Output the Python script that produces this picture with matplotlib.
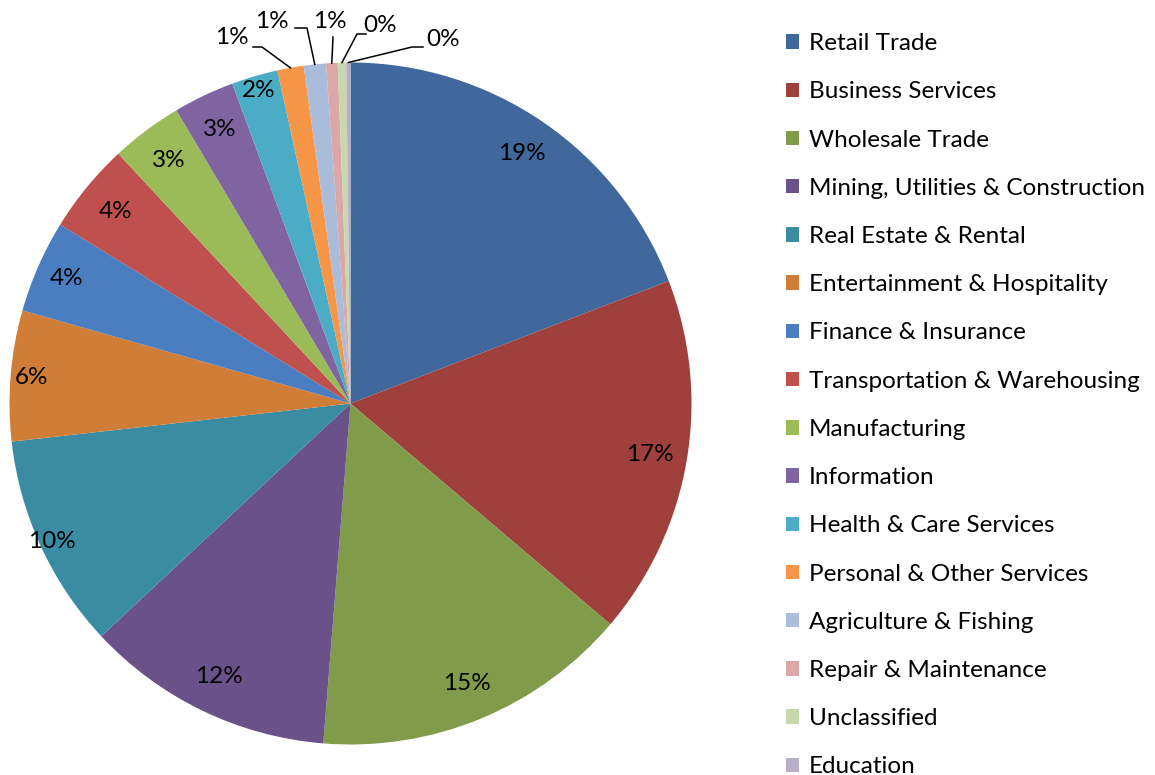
import numpy as np
import matplotlib.pyplot as plt
from matplotlib.patches import Patch

plt.rcParams['font.family'] = ['Lato', 'DejaVu Sans']

categories = ["Retail Trade", "Business Services", "Wholesale Trade",
              "Mining, Utilities & Construction", "Real Estate & Rental",
              "Entertainment & Hospitality", "Finance & Insurance",
              "Transportation & Warehousing", "Manufacturing", "Information",
              "Health & Care Services", "Personal & Other Services",
              "Agriculture & Fishing", "Repair & Maintenance", "Unclassified",
              "Education"]
shares = [19.2, 17.1, 15.1, 11.8, 10.2, 6.2, 4.4, 4.3, 3.4, 2.9, 2.2,
          1.25, 1.05, 0.55, 0.4, 0.2]
colors = ["#41689C", "#A0403D", "#809C4A", "#6A5189", "#3A8CA3", "#D07D38",
          "#4A7EC0", "#C0504D", "#9BBB59", "#8064A2", "#4BACC6", "#F79646",
          "#A9BCDA", "#DBA8A7", "#C7D8AC", "#B9AECA"]

W, H = 1155, 775
cx, cy, R = 350.5, 403.5, 341

fig = plt.figure(figsize=(W / 100, H / 100), dpi=100)
ax = fig.add_axes([(cx - R) / W, (H - cy - R) / H, 2 * R / W, 2 * R / H])

wedges, _ = ax.pie(shares, colors=colors, startangle=90, counterclock=False,
                   radius=1, wedgeprops=dict(linewidth=0))
ax.set_xlim(-1, 1)
ax.set_ylim(-1, 1)
ax.axis('off')

fs = 17.5
total = sum(shares)
inside_r = {4: 0.965, 5: 0.94, 6: 0.91, 10: 0.955}
# outside label layout for the tiny slices: (text x, text y, elbow x, elbow y, line end x) in pixels
outside = {
    11: (232, 38, 262, 47, 253),
    12: (272, 22, 307, 28, 295),
    13: (330, 22, 333, 37, 333),
    14: (380, 25, 357, 34, 366),
    15: (443, 40, 412, 47, 423),
}


def to_data(px, py):
    return (px - cx) / R, (cy - py) / R


for i, w in enumerate(wedges):
    mid = np.deg2rad((w.theta1 + w.theta2) / 2)
    label = f"{round(shares[i] / total * 100):.0f}%"
    if i in outside:
        tx, ty, ex, ey, lx = outside[i]
        sx, sy = np.cos(mid), np.sin(mid)
        exd, eyd = to_data(ex, ey)
        lxd, _ = to_data(lx, ey)
        ax.plot([sx, exd, lxd], [sy, eyd, eyd], color="black", lw=1.1,
                clip_on=False)
        txd, tyd = to_data(tx, ty)
        ax.text(txd, tyd, label, ha="center", va="center", fontsize=fs)
    else:
        r = inside_r.get(i, 0.89)
        ax.text(r * np.cos(mid), r * np.sin(mid), label, ha="center",
                va="center", fontsize=fs)

handles = [Patch(facecolor=c, edgecolor="none") for c in colors]
fig.legend(handles, categories, loc="upper left",
           bbox_to_anchor=(774 / W, 1 - 21 / H), frameon=False,
           fontsize=fs, handlelength=0.54, handleheight=0.54,
           handletextpad=0.4, labelspacing=1.12, borderpad=0)

fig.savefig("out.png", dpi=100)
